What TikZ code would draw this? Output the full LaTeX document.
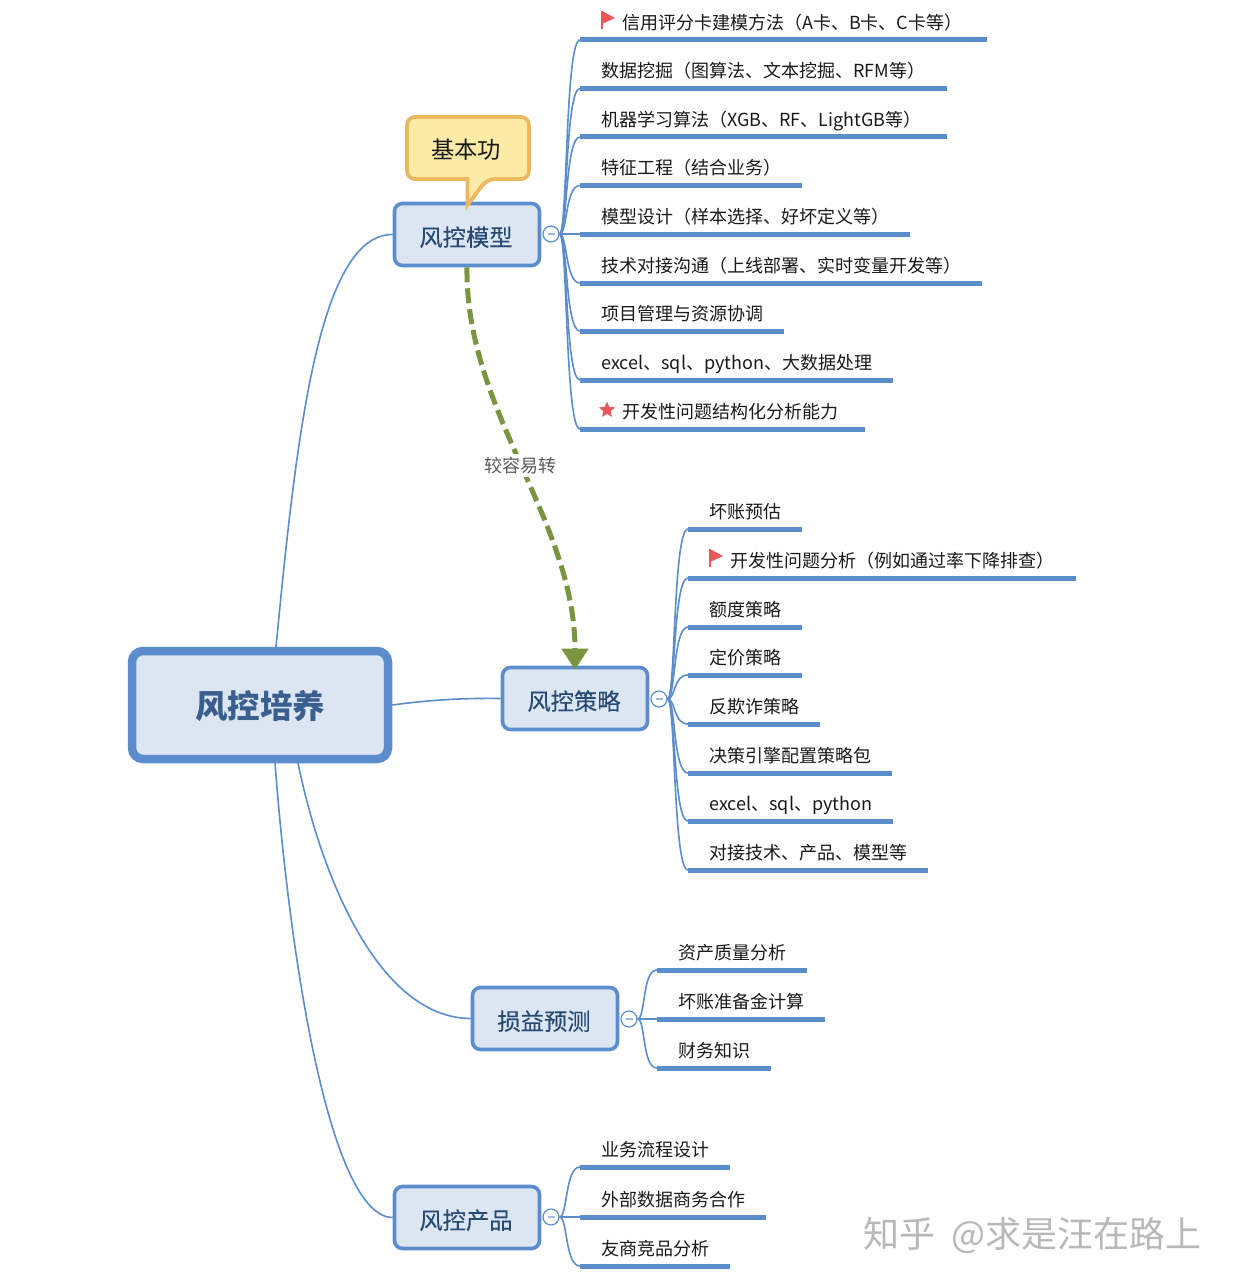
\documentclass[tikz,border=0pt]{standalone}
\usepackage{fontspec}
\setmainfont{Noto Sans CJK SC}
\newfontfamily\topicfont[FakeBold=0.3]{Noto Sans CJK SC}
\usetikzlibrary{arrows.meta,shapes.geometric}
\definecolor{mapblue}{HTML}{5B8CCB}
\definecolor{mapfill}{HTML}{DCE6F2}
\definecolor{mapink}{HTML}{274A73}
\definecolor{rootink}{HTML}{3A5F8F}
\definecolor{notefill}{HTML}{FCEBA6}
\definecolor{noteline}{HTML}{EBB860}
\definecolor{mapgreen}{HTML}{7A9440}
\definecolor{markred}{HTML}{E8585A}

\begin{document}
\begin{tikzpicture}[
            x=1pt, y=-1pt,
            root/.style={draw=mapblue, line width=8.5pt, fill=mapfill, rounded corners=11pt,
                minimum width=256pt, minimum height=108pt, text=rootink,
                text height=28pt, text depth=2pt,
                font=\fontsize{32.5}{33}\selectfont\bfseries},
            topic/.style={draw=mapblue, line width=3.6pt, fill=mapfill, rounded corners=8pt,
                minimum width=145pt, minimum height=62pt, text=mapink,
                text height=25pt, text depth=2pt, execute at begin node={\kern-2pt},
                font=\topicfont\fontsize{23.3}{24}\selectfont},
            collapse/.style={circle, draw=mapblue, fill=white, line width=1.2pt,
                minimum size=16pt, inner sep=0pt},
            collapse bar/.style={line width=1.2pt, color=mapblue!60},
            branch/.style={draw=mapblue, line width=1.6pt},
            leaf line/.style={draw=mapblue, line width=5pt},
            leaf text/.style={anchor=west, inner sep=0pt, text height=15pt, text depth=4pt,
                font=\fontsize{18}{18}\selectfont, text=black!90},
            relation/.style={draw=mapgreen, line width=5pt, dash pattern=on 15pt off 6pt,
                shorten >=-4pt, -{Triangle[width=26pt,length=21pt]}},
            flagmark/.pic={
                \fill[markred] (0,-7) -- (13,0) -- (0,6) -- cycle;
                \draw[markred, line width=1.8pt] (0,-7) -- (0,11);
            }
            ]
            \useasboundingbox (0,0) rectangle (1232,1284);

            % main nodes
            \node[root] (root) at (260,705) {风控培养};
            \node[topic] (model) at (467,234.5) {风控模型};
            \node[topic] (strategy) at (575,698.5) {风控策略};
            \node[topic] (loss) at (545,1018.5) {损益预测};
            \node[topic] (product) at (467,1217.5) {风控产品};

            % root branches
            \coordinate (roottop) at (276,647);
            \coordinate (rootbotA) at (298,763);
            \coordinate (rootbotB) at (275,763);
            \draw[branch] (roottop) .. controls (296,440) and (318,234) .. (model.west);
            \draw[branch] (root.east) .. controls (430,700) and (460,698) .. (strategy.west);
            \draw[branch] (rootbotA) .. controls (322,880) and (380,1018) .. (loss.west);
            \draw[branch] (rootbotB) .. controls (290,960) and (330,1217) .. (product.west);

            % collapse marks
            \node[collapse] (modelhub) at (551,234) {};
            \node[collapse] (strategyhub) at (659,699) {};
            \node[collapse] (losshub) at (629,1019) {};
            \node[collapse] (producthub) at (551,1217) {};
            \foreach \hub in {modelhub,strategyhub,losshub,producthub}
                \draw[collapse bar] ([xshift=-3.5pt]\hub.center) -- ([xshift=3.5pt]\hub.center);

            % model leaves
            \foreach \i/\ly/\xe/\tx/\txt in {
                1/40/987/622/{信用评分卡建模方法（A卡、B卡、C卡等）},
                2/88.5/947/601/{数据挖掘（图算法、文本挖掘、RFM等）},
                3/137/947/601/{机器学习算法（XGB、RF、LightGB等）},
                4/185.5/802/601/{特征工程（结合业务）},
                5/234/910/601/{模型设计（样本选择、好坏定义等）},
                6/283/982/601/{技术对接沟通（上线部署、实时变量开发等）},
                7/331/784/601/{项目管理与资源协调},
                8/380/893/601/{excel、sql、python、大数据处理},
                9/429/865/622/{开发性问题结构化分析能力}} {
                \coordinate (ma\i) at (580,\ly);
                \coordinate (mb\i) at (\xe,\ly);
                \node[leaf text] (mt\i) at (\tx,\ly-16) {\txt};
                \draw[branch] (modelhub.east) .. controls +(8,0) and (565,\ly) .. (ma\i);
                \draw[leaf line] (ma\i) -- (mb\i);
            }
            \pic at (602,18) {flagmark};
            \node[star, star points=5, star point ratio=2.2, fill=markred, inner sep=0pt,
                minimum size=17pt] (modelstar) at (607,410) {};

            % strategy leaves
            \foreach \i/\ly/\xe/\tx/\txt in {
                1/529/802/709/{坏账预估},
                2/578/1076/730/{开发性问题分析（例如通过率下降排查）},
                3/627/802/709/{额度策略},
                4/675/802/709/{定价策略},
                5/724/820/709/{反欺诈策略},
                6/773/892/709/{决策引擎配置策略包},
                7/821/893/709/{excel、sql、python},
                8/870/928/709/{对接技术、产品、模型等}} {
                \coordinate (sa\i) at (688,\ly);
                \coordinate (sb\i) at (\xe,\ly);
                \node[leaf text] (st\i) at (\tx,\ly-16) {\txt};
                \draw[branch] (strategyhub.east) .. controls +(8,0) and (673,\ly) .. (sa\i);
                \draw[leaf line] (sa\i) -- (sb\i);
            }
            \pic at (710,556) {flagmark};

            % loss leaves
            \foreach \i/\ly/\xe/\txt in {
                1/970/807/{资产质量分析},
                2/1019/825/{坏账准备金计算},
                3/1068/771/{财务知识}} {
                \coordinate (la\i) at (657,\ly);
                \coordinate (lb\i) at (\xe,\ly);
                \node[leaf text] (lt\i) at (678,\ly-16) {\txt};
                \draw[branch] (losshub.east) .. controls +(8,0) and (642,\ly) .. (la\i);
                \draw[leaf line] (la\i) -- (lb\i);
            }

            % product leaves
            \foreach \i/\ly/\xe/\txt in {
                1/1167/730/{业务流程设计},
                2/1217/766/{外部数据商务合作},
                3/1266/730/{友商竞品分析}} {
                \coordinate (pa\i) at (580,\ly);
                \coordinate (pb\i) at (\xe,\ly);
                \node[leaf text] (pt\i) at (601,\ly-16) {\txt};
                \draw[branch] (producthub.east) .. controls +(8,0) and (565,\ly) .. (pa\i);
                \draw[leaf line] (pa\i) -- (pb\i);
            }

            % note on the model topic
            \draw[draw=noteline, fill=notefill, line width=3.8pt, rounded corners=8pt]
                (467.5,179) -- (407,179) -- (407,117) -- (529,117) -- (529,179)
                -- (487,179) [sharp corners] -- (467.5,205) -- cycle;
            \node[font=\fontsize{23.3}{24}\selectfont, text=black!90] (note) at (466,150) {基本功};

            % relation
            \draw[relation] (model.south) .. controls (465,410) and (575,520) .. (strategy.north)
                node[pos=0.5, fill=white, inner sep=3pt, text=black!65,
                font=\fontsize{18}{18}\selectfont] (relationtext) {较容易转};

            % watermark
            \node[anchor=west, inner sep=0pt, text=black!28,
                font=\fontsize{36}{36}\selectfont] (watermark) at (863,1235) {知乎\hspace{8pt} @求是汪在路上};
        \end{tikzpicture}
\end{document}
